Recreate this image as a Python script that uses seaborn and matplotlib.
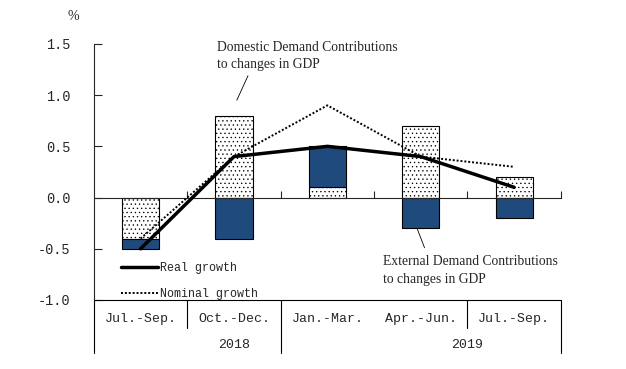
import numpy as np
import pandas as pd
import matplotlib
matplotlib.use('Agg')
import matplotlib.pyplot as plt
import seaborn as sns

# values
quarters = ['Jul.-Sep.', 'Oct.-Dec.', 'Jan.-Mar.', 'Apr.-Jun.', 'Jul.-Sep.']
years = ['2018', '2019']
domestic = [-0.4, 0.8, 0.1, 0.7, 0.2]
external = [-0.1, -0.4, 0.4, -0.3, -0.2]
real_growth = [-0.5, 0.4, 0.5, 0.4, 0.1]
nominal_growth = [-0.4, 0.4, 0.9, 0.4, 0.3]

sns.set_style('white')
plt.rcParams['hatch.linewidth'] = 0.45
MONO = 'Liberation Mono'
SERIF = 'Liberation Serif'

df = pd.DataFrame({'pos': np.arange(len(quarters)), 'quarter': quarters,
                   'domestic': domestic, 'external': external,
                   'real': real_growth, 'nominal': nominal_growth})
# stack external on domestic when both share a sign
df['ext_bottom'] = np.where(np.sign(df['domestic']) == np.sign(df['external']), df['domestic'], 0.0)

fig = plt.figure(figsize=(6.26, 3.69), dpi=100)
ax = fig.add_axes([0.150, 0.187, 0.746, 0.694])

ax.bar(df['pos'], df['domestic'], width=0.4, color='white', edgecolor='black',
       hatch='....', linewidth=0.8, zorder=2)
ax.bar(df['pos'], df['external'], bottom=df['ext_bottom'], width=0.4, color='#1f4a7c',
       edgecolor='black', linewidth=0.8, zorder=2)

sns.lineplot(data=df, x='pos', y='nominal', ax=ax, color='black', lw=1.4,
             linestyle=(0, (1, 1.0)), label='Nominal growth', zorder=3)
sns.lineplot(data=df, x='pos', y='real', ax=ax, color='black', lw=2.5,
             label='Real growth', zorder=4)

ax.set_xlim(-0.5, len(quarters) - 0.5)
ax.set_ylim(-1.0, 1.5)
ax.set_yticks(np.arange(-1.0, 1.51, 0.5))
ax.set_yticklabels([f'{v:.1f}' for v in np.arange(-1.0, 1.51, 0.5)], fontfamily=MONO, fontsize=9.8)
ax.tick_params(axis='y', direction='in', length=6, width=0.8, pad=17, left=True)
ax.set_xlabel('')
ax.set_ylabel('')

# zero line as the bottom spine, with ticks at category boundaries
for s in ['top', 'right']:
    ax.spines[s].set_visible(False)
ax.spines['bottom'].set_position(('data', 0))
ax.spines['bottom'].set_linewidth(0.8)
ax.spines['left'].set_linewidth(0.8)
ax.set_xticks(np.arange(0.5, len(quarters), 1.0))
ax.set_xticklabels([])
ax.tick_params(axis='x', direction='in', length=5, width=0.8, bottom=True)

# category table under the plot
ax.plot([-0.5, 4.5], [-1.0, -1.0], color='black', lw=0.8, clip_on=False)
for x in [-0.5, 1.5, 4.5]:
    ax.plot([x, x], [-1.0, -1.52], color='black', lw=0.8, clip_on=False)
for x in [0.5, 3.5]:
    ax.plot([x, x], [-1.0, -1.27], color='black', lw=0.8, clip_on=False)
for i, q in enumerate(quarters):
    ax.text(i, -1.19, q, ha='center', va='center', fontfamily=MONO, fontsize=9.5)
ax.text(1.0, -1.44, years[0], ha='center', va='center', fontfamily=MONO, fontsize=9.5)
ax.text(3.5, -1.44, years[1], ha='center', va='center', fontfamily=MONO, fontsize=9.5)

fig.text(73 / 626, 1 - 16 / 369, '%', ha='center', va='center', fontfamily=SERIF, fontsize=10)

# annotations with leader lines
ax.text(0.82, 1.38, 'Domestic Demand Contributions\nto changes in GDP', ha='left', va='center',
        fontfamily=SERIF, fontsize=9.8, linespacing=1.45)
ax.plot([1.15, 1.03], [1.19, 0.95], color='black', lw=0.6)
ax.text(2.6, -0.71, 'External Demand Contributions\nto changes in GDP', ha='left', va='center',
        fontfamily=SERIF, fontsize=9.8, linespacing=1.45)
ax.plot([2.96, 3.04], [-0.30, -0.49], color='black', lw=0.6)

h, l = ax.get_legend_handles_labels()
ax.legend(h[::-1], l[::-1], loc='lower left', bbox_to_anchor=(0.035, -0.04), frameon=False,
          handlelength=3.2, handletextpad=0.2, labelspacing=1.2,
          prop={'family': MONO, 'size': 8.4})

fig.savefig('out.png', dpi=100)
